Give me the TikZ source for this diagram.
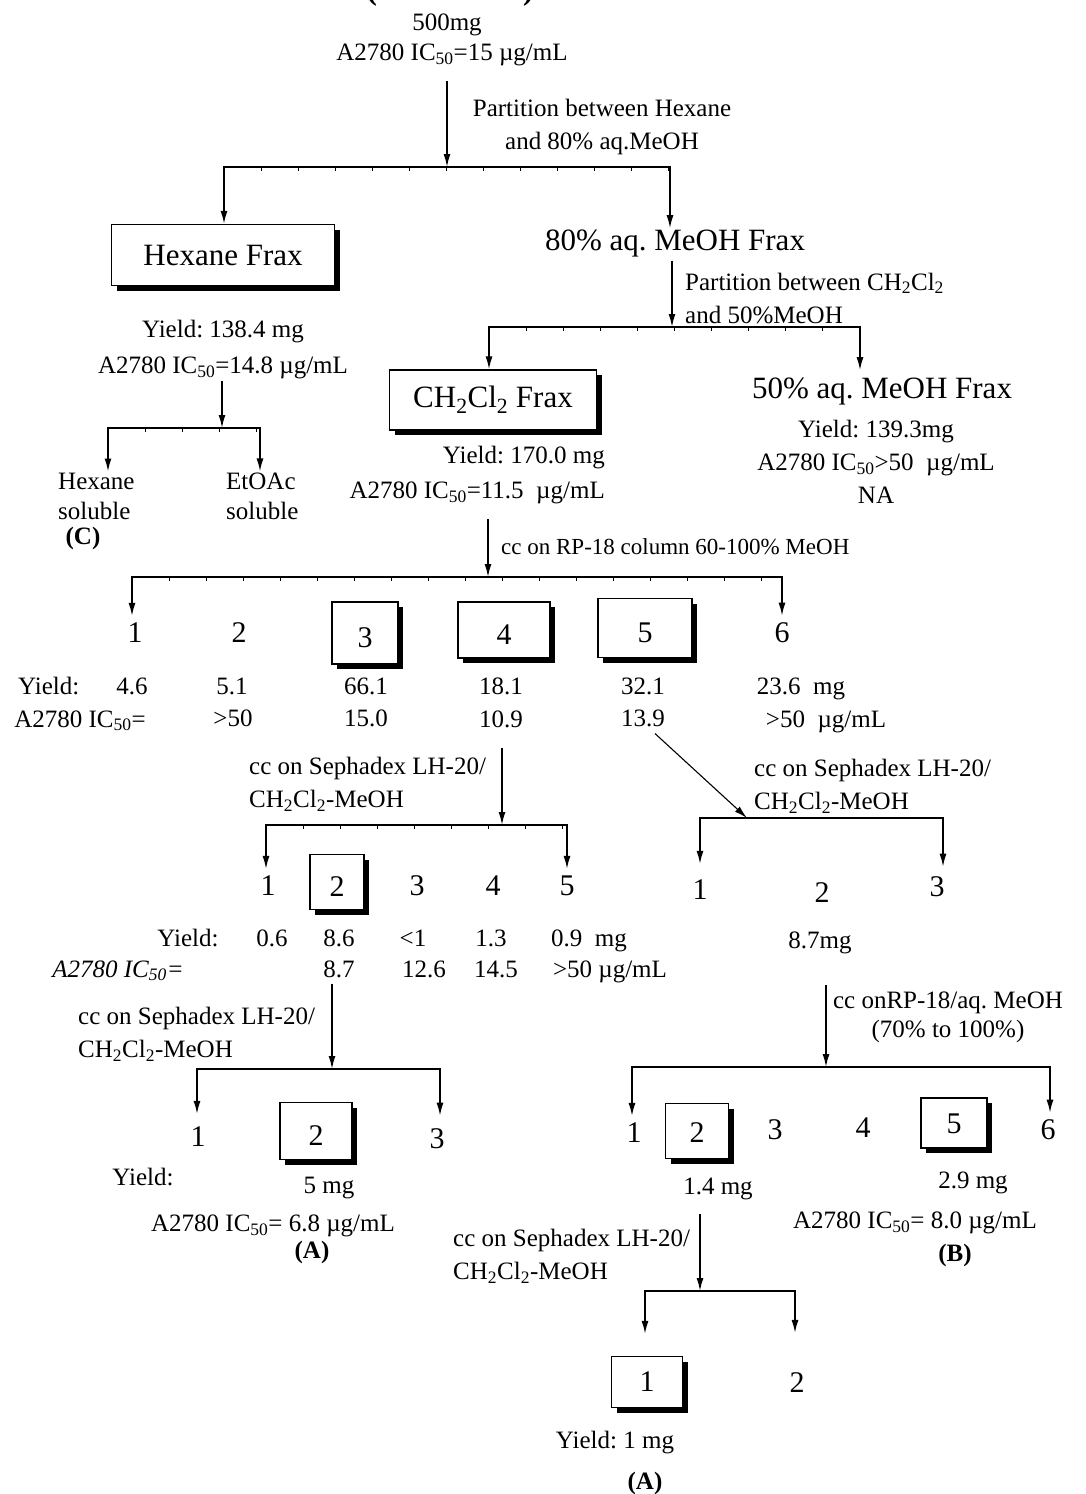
\documentclass[tikz,border=0pt]{standalone}
\usepackage{fontspec}
\setmainfont{Liberation Serif}
\usetikzlibrary{arrows.meta,shadows,decorations.markings}
\frenchspacing
\newcommand\icf{IC\textsubscript{50}}
\newcommand\dcm{CH\textsubscript{2}Cl\textsubscript{2}}
\newcommand\ug{µg/mL}
\newcommand\smtext{\fontsize{25}{33}\selectfont}
\newcommand\lgtext{\fontsize{31}{36}\selectfont}
\newcommand\nmtext{\fontsize{30}{34}\selectfont}
\begin{document}
\begin{tikzpicture}[x=1pt,y=-1pt,
    every node/.style={font=\smtext,inner sep=1pt},
    big/.style={font=\lgtext},
    num/.style={font=\nmtext,inner sep=7pt},
    bold/.style={font=\smtext\bfseries},
    fbox/.style={draw,line width=1.4pt,fill=white,inner sep=0pt,
      drop shadow={shadow xshift=5pt,shadow yshift=-5pt,fill=black,opacity=1}},
    dbox/.style={fbox,font=\nmtext,text height=29pt},
    cbox/.style={fbox,font=\nmtext,text height=22pt},
    flow/.style={-{Latex[length=13pt,width=7pt]},line width=1.6pt},
    bar/.style={line width=1.6pt,line cap=rect},
    ruled/.style={postaction={decorate,decoration={markings,
      mark=between positions 0 and 1 step 37pt with {\draw[line width=1pt] (0,0)--(0,-3pt);}}}}]%
        \useasboundingbox (0,0) rectangle (1086,1494);%%
        %\draw[help lines] (0,0) grid[step=50] (1086,1494);%%
        \node[font=\fontsize{32}{36}\selectfont\bfseries,anchor=base] (title) at (450,-1) {(\hspace{146pt})}; %%
        % crude extract and first partition
        \node (n500) at (447,25) {500mg}; %%
        \node (nic0) at (452,55) {A2780 \icf=15 \ug}; %%
        \node[align=center] (part1) at (602,127) {Partition between Hexane\\and 80\% aq.MeOH}; %%
        \node[big,fbox,minimum width=223pt,minimum height=61pt] (hexfrax) at (223,255) {Hexane Frax}; %%
        \node[big] (meoh80) at (675,243) {80\% aq. MeOH Frax}; %%
        \node[align=left,anchor=west] (part2) at (684,298) {Partition between \dcm\\and 50\%MeOH}; %%
        \node[align=center] (hexinfo) at (223,350) {Yield: 138.4 mg\\[3pt]A2780 \icf=14.8 \ug}; %%
        \node[align=left,anchor=west] (hexsol) at (57,496) {Hexane\\[-3pt]soluble}; %%
        \node[bold] (hexC) at (83,538) {(C)}; %%
        \node[align=left,anchor=west] (etoac) at (225,496) {EtOAc\\[-3pt]soluble}; %%
        \node[big,fbox,minimum width=207pt,minimum height=60pt] (dcmfrax) at (493,400) {\dcm{} Frax}; %%
        \node[align=right,anchor=east] (dcminfo) at (606,475) {Yield: 170.0 mg\\[2pt]A2780 \icf=11.5~ \ug}; %%
        \node[big] (meoh50) at (882,391) {50\% aq. MeOH Frax}; %%
        \node[align=center] (meoh50info) at (876,462) {Yield: 139.3mg\\A2780 \icf>50~ \ug\\NA}; %%
        % RP-18 column
        \node[anchor=west,font=\fontsize{23}{30}\selectfont] (rp18lab) at (500,547) {cc on RP-18 column 60-100\% MeOH}; %%
        \begin{scope}[every node/.append style={num}]
        \node (f1) at (135,633) {1}; %%
        \node (f2) at (239,633) {2}; %%
        \node[dbox,minimum width=66pt,minimum height=62pt] (f3) at (365,633) {3}; %%
        \node[dbox,minimum width=92pt,minimum height=56pt] (f4) at (504,630) {4}; %%
        \node[dbox,minimum width=94pt,minimum height=59pt] (f5) at (645,628) {5}; %%
        \node (f6) at (782,633) {6}; %%
        \end{scope}
        \begin{scope}[every node/.append style={anchor=base}]
        \node[anchor=base west] (yl) at (17,694) {Yield:}; %%
        \node (y1) at (132,694) {4.6}; %%
        \node (y2) at (232,694) {5.1}; %%
        \node (y3) at (366,694) {66.1}; %%
        \node (y4) at (501,694) {18.1}; %%
        \node (y5) at (643,694) {32.1}; %%
        \node (y6) at (801,694) {23.6~ mg}; %%
        \node (icl) at (80,727) {A2780 \icf=}; %%
        \node (i2) at (233,726) {>50}; %%
        \node (i3) at (366,726) {15.0}; %%
        \node (i4) at (501,727) {10.9}; %%
        \node (i5) at (643,726) {13.9}; %%
        \node (i6) at (826,727) {>50~ \ug}; %%
        \end{scope}
        % Sephadex on fraction 4
        \node[align=left,anchor=west] (seph1) at (248,784) {cc on Sephadex LH-20/\\\dcm-MeOH}; %%
        \begin{scope}[every node/.append style={num}]
        \node (g1) at (268,886) {1}; %%
        \node[dbox,minimum width=54pt,minimum height=55pt] (g2) at (337,882) {2}; %%
        \node (g3) at (417,886) {3}; %%
        \node (g4) at (493,886) {4}; %%
        \node (g5) at (567,886) {5}; %%
        \end{scope}
        \begin{scope}[every node/.append style={anchor=base}]
        \node (gyl) at (188,946) {Yield:}; %%
        \node (gy1) at (272,946) {0.6}; %%
        \node (gy2) at (339,946) {8.6}; %%
        \node (gy3) at (413,946) {<1}; %%
        \node (gy4) at (491,946) {1.3}; %%
        \node (gy5) at (589,946) {0.9~ mg}; %%
        \node[font=\smtext\itshape] (gil) at (118,977) {A2780 \icf=}; %%
        \node (gi2) at (339,977) {8.7}; %%
        \node (gi3) at (424,977) {12.6}; %%
        \node (gi4) at (496,977) {14.5}; %%
        \node (gi5) at (610,977) {>50 \ug}; %%
        \end{scope}
        % Sephadex on fraction 5
        \node[align=left,anchor=west] (seph2) at (753,786) {cc on Sephadex LH-20/\\\dcm-MeOH}; %%
        \begin{scope}[every node/.append style={num}]
        \node (h1) at (700,890) {1}; %%
        \node (h2) at (822,893) {2}; %%
        \node (h3) at (937,887) {3}; %%
        \end{scope}
        \node (hy2) at (820,943) {8.7mg}; %%
        \node[align=center] (rp18b) at (948,1017) {cc onRP-18/aq. MeOH\\[-4pt](70\% to 100\%)}; %%
        \begin{scope}[every node/.append style={num}]
        \node (k1) at (634,1133) {1}; %%
        \node[cbox,minimum width=63pt,minimum height=55pt] (k2) at (697,1131) {2}; %%
        \node (k3) at (775,1130) {3}; %%
        \node (k4) at (863,1128) {4}; %%
        \node[cbox,minimum width=66pt,minimum height=50pt] (k5) at (954,1123) {5}; %%
        \node (k6) at (1048,1130) {6}; %%
        \end{scope}
        \node (ky2) at (718,1189) {1.4 mg}; %%
        \node (ky5) at (973,1183) {2.9 mg}; %%
        \node (kic) at (915,1223) {A2780 \icf= 8.0 \ug}; %%
        \node[bold] (kB) at (955,1255) {(B)}; %%
        \node[align=left,anchor=west] (seph3) at (452,1256) {cc on Sephadex LH-20/\\\dcm-MeOH}; %%
        \node[fbox,font=\nmtext,minimum width=71pt,minimum height=51pt] (m1) at (647,1382) {1}; %%
        \node[num] (m2) at (797,1383) {2}; %%
        \node (my) at (615,1443) {Yield: 1 mg}; %%
        \node[bold] (mA) at (645,1483) {(A)}; %%
        % Sephadex on fraction 4.2
        \node[align=left,anchor=west] (seph4) at (77,1034) {cc on Sephadex LH-20/\\\dcm-MeOH}; %%
        \begin{scope}[every node/.append style={num}]
        \node (p1) at (198,1137) {1}; %%
        \node[dbox,minimum width=72pt,minimum height=57pt] (p2) at (316,1131) {2}; %%
        \node (p3) at (437,1139) {3}; %%
        \end{scope}
        \node (pyl) at (143,1177) {Yield:}; %%
        \node (py2) at (329,1188) {5 mg}; %%
        \node (pic) at (273,1226) {A2780 \icf= 6.8 \ug}; %%
        \node[bold] (pA) at (312,1252) {(A)}; %%
        % junctions
        \coordinate (j1) at (447,167); \coordinate (j1l) at (224,167); \coordinate (j1r) at (670,167); %%
        \coordinate (j2) at (672,327); \coordinate (j2l) at (489,327); \coordinate (j2r) at (860,327); %%
        \coordinate (j3) at (222,428); \coordinate (j3l) at (108,428); \coordinate (j3r) at (260,428); %%
        \coordinate (j4) at (488,577); \coordinate (j4l) at (132,577); \coordinate (j4r) at (782,577); %%
        \coordinate (j5) at (502,825); \coordinate (j5l) at (266,825); \coordinate (j5r) at (567,825); %%
        \coordinate (j6) at (747,818); \coordinate (j6l) at (700,818); \coordinate (j6r) at (943,818); %%
        \coordinate (j7) at (826,1067); \coordinate (j7l) at (632,1067); \coordinate (j7r) at (1050,1067); %%
        \coordinate (j8) at (332,1069); \coordinate (j8l) at (197,1069); \coordinate (j8r) at (440,1069); %%
        \coordinate (j9) at (700,1291); \coordinate (j9l) at (645,1291); \coordinate (j9r) at (795,1291); %%
        % connectors
        \draw[flow] (j1 |- nic0.south) ++(0,14) -- (j1); %%
        \draw[bar,ruled] (j1l) -- (j1r); %%
        \draw[flow] (j1l) -- (j1l |- hexfrax.north); %%
        \draw[flow] (j1r) -- (j1r |- meoh80.north); %%
        \draw[flow] (j2 |- meoh80.south) ++(0,3) -- (j2); %%
        \draw[bar,ruled] (j2l) -- (j2r); %%
        \draw[flow] (j2l) -- (j2l |- dcmfrax.north); %%
        \draw[flow,shorten >=6pt] (j2r) -- (j2r |- meoh50.north); %%
        \draw[flow] (j3 |- hexinfo.south) -- (j3); %%
        \draw[bar,ruled] (j3l) -- (j3r); %%
        \draw[flow] (j3l) -- (j3l |- hexsol.north); %%
        \draw[flow] (j3r) -- (j3r |- etoac.north); %%
        \draw[flow] (j4 |- dcminfo.south) ++(0,14) -- (j4); %%
        \draw[bar,ruled] (j4l) -- (j4r); %%
        \draw[flow] (j4l) -- (j4l |- f1.north); %%
        \draw[flow] (j4r) -- (j4r |- f6.north); %%
        \draw[flow] (j5 |- i4.south) ++(0,19) -- (j5); %%
        \draw[bar,ruled] (j5l) -- (j5r); %%
        \draw[flow] (j5l) -- (j5l |- g1.north); %%
        \draw[flow] (j5r) -- (j5r |- g5.north); %%
        \draw[line width=1.1pt,-{Latex[length=13pt,width=7pt]}] (i5.south) ++(12,6) -- (j6); %%
        \draw[bar] (j6l) -- (j6r); %%
        \draw[flow,shorten >=9pt] (j6l) -- (j6l |- h1.north); %%
        \draw[flow,shorten >=3pt] (j6r) -- (j6r |- h3.north); %%
        \draw[flow] (j7 |- hy2.south) ++(0,30) -- (j7); %%
        \draw[bar] (j7l) -- (j7r); %%
        \draw[flow] (j7l) -- (j7l |- k1.north); %%
        \draw[flow] (j7r) -- (j7r |- k6.north); %%
        \draw[flow] (j8 |- gi2.south) ++(0,5) -- (j8); %%
        \draw[bar] (j8l) -- (j8r); %%
        \draw[flow,shorten >=6pt] (j8l) -- (j8l |- p1.north); %%
        \draw[flow,shorten >=6pt] (j8r) -- (j8r |- p3.north); %%
        \draw[flow] (j9 |- ky2.south) ++(0,13) -- (j9); %%
        \draw[bar] (j9l) -- (j9r); %%
        \draw[flow,shorten >=22pt] (j9l) -- (j9l |- m1.north); %%
        \draw[flow,shorten >=33pt] (j9r) -- (j9r |- m2.north); %%
\end{tikzpicture}
\end{document}
